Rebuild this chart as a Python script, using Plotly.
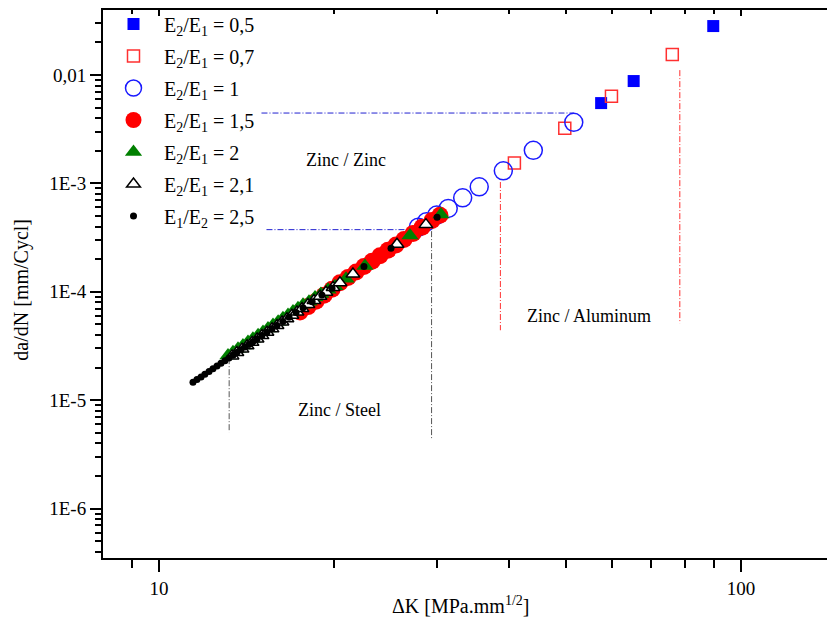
import math
import plotly.graph_objects as go

# ---------------- data ----------------
dk_05 = [57.5, 65.4, 89.6]
da_05 = [5.51e-3, 8.8e-3, 0.0283]

dk_07 = [40.8, 49.8, 59.9, 76.2]
da_07 = [1.54e-3, 3.22e-3, 6.36e-3, 0.0155]

dk_10 = [27.9, 28.8, 30.0, 31.4, 33.25, 35.5, 39.05, 43.97, 51.6]
da_10 = [3.95e-4, 4.42e-4, 5.1e-4, 5.88e-4, 7.36e-4, 9.3e-4, 1.307e-3, 2.02e-3, 3.66e-3]

dk_15 = [17.47, 18.03, 18.61, 19.21, 19.83, 20.46, 21.12, 21.81, 22.50, 23.23,
         23.97, 24.74, 25.54, 26.36, 27.32, 28.31, 29.45, 30.39]
da_15 = [6.50e-5, 7.30e-5, 8.18e-5, 9.29e-5, 1.054e-4, 1.210e-4, 1.358e-4, 1.523e-4,
         1.709e-4, 1.917e-4, 2.151e-4, 2.413e-4, 2.706e-4, 3.037e-4, 3.456e-4,
         3.934e-4, 4.543e-4, 5.095e-4]

dk_20 = [13.14, 13.40, 13.67, 13.94, 14.22, 14.50, 14.80, 15.09, 15.39, 15.70,
         16.02, 16.33, 16.66, 16.99, 17.33, 17.68, 18.10, 18.54, 18.98, 19.52,
         20.06, 20.96, 22.59, 26.99, 30.51]
da_20 = [2.581e-5, 2.773e-5, 2.980e-5, 3.202e-5, 3.440e-5, 3.696e-5, 3.972e-5,
         4.268e-5, 4.586e-5, 4.927e-5, 5.295e-5, 5.689e-5, 6.113e-5, 6.568e-5,
         7.059e-5, 7.582e-5, 8.114e-5, 8.845e-5, 9.535e-5, 1.042e-4, 1.126e-4,
         1.319e-4, 1.734e-4, 3.311e-4, 5.169e-4]

dk_21 = [13.35, 13.61, 13.89, 14.17, 14.45, 14.74, 15.03, 15.33, 15.64, 15.95,
         16.27, 16.59, 16.92, 17.26, 17.61, 18.03, 18.46, 18.91, 19.36, 19.91,
         20.46, 21.54, 25.64, 28.75]
da_21 = [2.563e-5, 2.754e-5, 2.959e-5, 3.180e-5, 3.416e-5, 3.671e-5, 3.945e-5,
         4.238e-5, 4.553e-5, 4.892e-5, 5.259e-5, 5.650e-5, 6.071e-5, 6.523e-5,
         7.009e-5, 7.640e-5, 8.327e-5, 9.080e-5, 9.897e-5, 1.094e-4, 1.211e-4,
         1.459e-4, 2.747e-4, 4.167e-4]

dk_25 = [11.44, 11.62, 11.81, 11.99, 12.19, 12.38, 12.58, 12.78, 12.98, 13.19,
         13.40, 13.61, 13.83, 14.05, 14.28, 14.50, 14.74, 15.03, 15.33, 15.64,
         15.95, 16.33, 16.73, 17.20, 17.68, 18.33, 19.05, 19.83, 22.50, 25.04, 30.05]
da_25 = [1.463e-5, 1.550e-5, 1.641e-5, 1.738e-5, 1.841e-5, 1.950e-5, 2.066e-5,
         2.189e-5, 2.317e-5, 2.455e-5, 2.600e-5, 2.754e-5, 2.917e-5, 3.090e-5,
         3.272e-5, 3.466e-5, 3.671e-5, 3.945e-5, 4.238e-5, 4.553e-5, 4.892e-5,
         5.335e-5, 5.814e-5, 6.430e-5, 7.111e-5, 8.091e-5, 9.344e-5, 1.079e-4,
         1.709e-4, 2.519e-4, 4.88e-4]

series_names = ["E<sub>2</sub>/E<sub>1</sub> = 0,5", "E<sub>2</sub>/E<sub>1</sub> = 0,7",
                "E<sub>2</sub>/E<sub>1</sub> = 1", "E<sub>2</sub>/E<sub>1</sub> = 1,5",
                "E<sub>2</sub>/E<sub>1</sub> = 2", "E<sub>2</sub>/E<sub>1</sub> = 2,1",
                "E<sub>1</sub>/E<sub>2</sub> = 2,5"]

# guide lines (dash-dot) : x pairs / y pairs
zz_top_x = [15.0, 51.6];  zz_top_y = [4.46e-3, 4.46e-3]
zz_bot_x = [15.3, 29.4];  zz_bot_y = [3.745e-4, 3.745e-4]
zs_left_x = [13.2, 13.2]; zs_left_y = [2.44e-5, 5.06e-6]
zs_right_x = [29.4, 29.4]; zs_right_y = [3.63e-4, 4.45e-6]
za_left_x = [38.6, 38.6]; za_left_y = [1.03e-3, 4.42e-5]
za_right_x = [78.5, 78.5]; za_right_y = [0.0111, 5.13e-5]

region_labels = ["Zinc / Zinc", "Zinc / Steel", "Zinc / Aluminum"]
region_x = [20.96, 20.46, 54.8]
region_y = [1.64e-3, 8.07e-6, 5.95e-5]

x_tick_vals = [10, 100]
x_tick_text = ["10", "100"]
y_tick_vals = [1e-6, 1e-5, 1e-4, 1e-3, 1e-2]
y_tick_text = ["1E-6", "1E-5", "1E-4", "1E-3", "0,01"]

# ---------------- figure ----------------
FONT = "Liberation Serif, Times New Roman, serif"
fig = go.Figure()

dash = "6px,2px,1px,2px"
for gx, gy, col in [(zz_top_x, zz_top_y, "#2020d0"), (zz_bot_x, zz_bot_y, "#2020d0"),
                    (zs_left_x, zs_left_y, "#555555"), (zs_right_x, zs_right_y, "#555555"),
                    (za_left_x, za_left_y, "#ff3030"), (za_right_x, za_right_y, "#ff3030")]:
    fig.add_trace(go.Scatter(x=gx, y=gy, mode="lines", showlegend=False, hoverinfo="skip",
                             line=dict(color=col, width=1, dash=dash)))

markers = [
    dict(symbol="square", size=12, color="#0000ff", line=dict(width=0)),
    dict(symbol="square-open", size=12, color="#ff3030", line=dict(width=1.5)),
    dict(symbol="circle-open", size=18, color="#1a1aff", line=dict(width=1.5)),
    dict(symbol="circle", size=17, color="#ff0000", line=dict(width=0)),
    dict(symbol="triangle-up", size=15, color="#008000", line=dict(width=0)),
    dict(symbol="triangle-up", size=12, color="white", line=dict(width=1.5, color="black")),
    dict(symbol="circle", size=7, color="black", line=dict(width=0)),
]
data = [(dk_05, da_05), (dk_07, da_07), (dk_10, da_10), (dk_15, da_15),
        (dk_20, da_20), (dk_21, da_21), (dk_25, da_25)]
for i, ((xs, ys), mk) in enumerate(zip(data, markers)):
    fig.add_trace(go.Scatter(x=xs, y=ys, mode="markers", name=series_names[i],
                             legendgroup=f"g{i}", marker=mk))

# dummy trace for top axis
fig.add_trace(go.Scatter(x=[10], y=[1e-9], xaxis="x2", mode="markers", showlegend=False,
                         hoverinfo="skip", marker=dict(opacity=0)))

for t, x, y in zip(region_labels, region_x, region_y):
    fig.add_annotation(x=math.log10(x), y=math.log10(y), xref="x", yref="y", text=t,
                       showarrow=False, font=dict(family=FONT, size=18, color="black"))

xr = [0.9038, 2.1615]
fig.update_layout(
    width=835, height=625,
    margin=dict(l=95, r=8, t=2, b=75, autoexpand=False),
    paper_bgcolor="white", plot_bgcolor="white",
    font=dict(family=FONT, size=19, color="black"),
    xaxis=dict(type="log", range=xr, showgrid=False, zeroline=False, automargin=False,
               showline=True, linecolor="black", linewidth=2,
               ticks="outside", ticklen=12, tickwidth=2, tickcolor="black",
               tickvals=x_tick_vals, ticktext=x_tick_text, tickfont=dict(size=19),
               minor=dict(ticks="outside", ticklen=8, tickwidth=2, dtick="D1",
                          tickcolor="black", showgrid=False)),
    xaxis2=dict(type="log", range=xr, overlaying="x", side="top", anchor="y",
                automargin=False,
                showgrid=False, zeroline=False, showline=True, linecolor="black", linewidth=2,
                ticks="inside", ticklen=6, tickwidth=1.5, tickcolor="black",
                tickvals=x_tick_vals, showticklabels=False,
                minor=dict(ticks="inside", ticklen=4, tickwidth=1.5, dtick="D1",
                           tickcolor="black", showgrid=False)),
    yaxis=dict(type="log", range=[-6.456, -1.4], showgrid=False, zeroline=False,
               automargin=False,
               showline=True, linecolor="black", linewidth=2,
               ticks="outside", ticklen=11, tickwidth=2, tickcolor="black",
               tickvals=y_tick_vals, ticktext=y_tick_text, tickfont=dict(size=19),
               minor=dict(ticks="outside", ticklen=6, tickwidth=1.5, dtick="D1",
                          tickcolor="black", showgrid=False)),
    legend=dict(x=0.0, y=1.01, xanchor="left", yanchor="top", bgcolor="rgba(0,0,0,0)",
                font=dict(family=FONT, size=20), itemwidth=51, tracegroupgap=3),
    showlegend=True,
)

fig.add_annotation(x=(460 - 103) / 732, y=-0.085, xref="paper", yref="paper",
                   text="ΔK [MPa.mm<sup>1/2</sup>]", showarrow=False,
                   font=dict(family=FONT, size=20), yanchor="middle")
fig.add_annotation(x=-0.1125, y=(558 - 290) / 548, xref="paper", yref="paper",
                   text="da/dN [mm/Cycl]", showarrow=False, textangle=-90,
                   font=dict(family=FONT, size=20), xanchor="center", yanchor="middle")

fig.write_html("out.html")
